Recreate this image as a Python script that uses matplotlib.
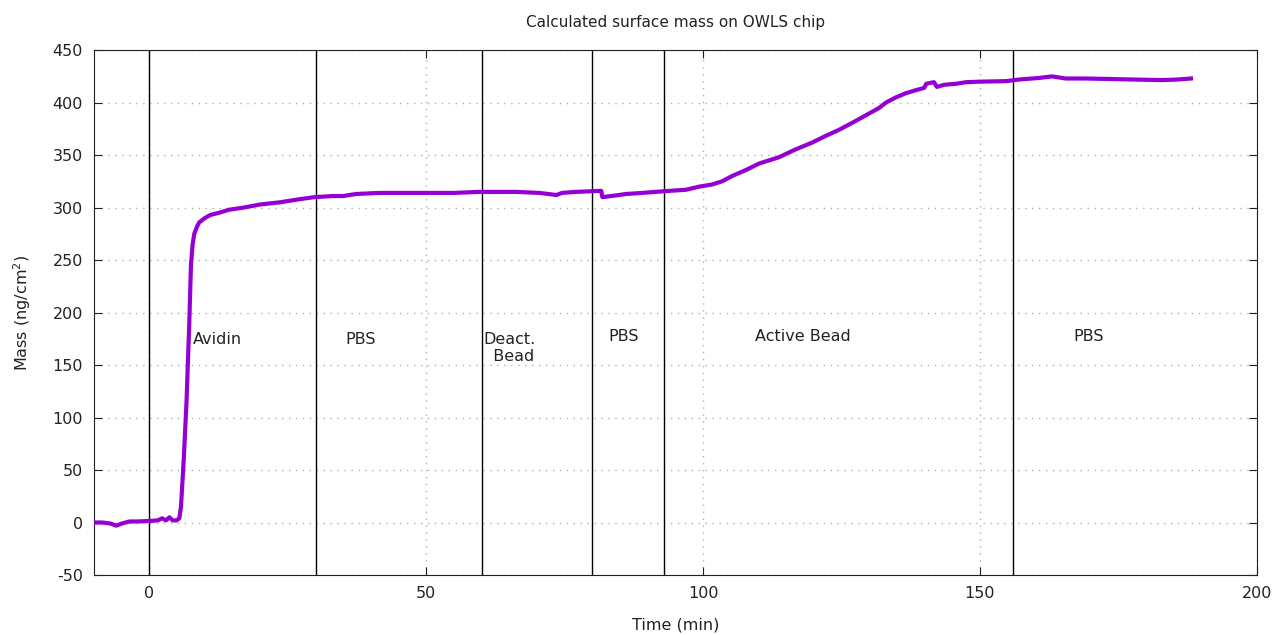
import numpy as np
import matplotlib.pyplot as plt

plt.rcParams['axes.unicode_minus'] = False

# time (min) and calculated surface mass (ng/cm^2)
time = [-10, -8.5, -7, -6, -5, -3.6, -2, 0, 1.5, 2.3, 3, 3.6, 4.2, 4.9, 5.4,
        5.7, 6.2, 6.7, 7.2, 7.5, 7.8, 8.1, 8.6, 9.0, 10, 11, 12.5, 14.4, 17,
        20, 23.5, 27.1, 29.8, 33, 35, 36.1, 37.4, 41.5, 46, 51.1, 55, 59.6, 63,
        66.2, 70.4, 72, 73.5, 74.5, 77, 79.4, 81.6, 81.8, 84.8, 86.1, 89, 92.6,
        96.9, 99.3, 101.6, 103.4, 105.2, 107.8, 110.1, 113.7, 116.5, 119.7,
        122, 124.5, 127, 129.4, 131.8, 133, 134.8, 136.6, 138.5, 139.9, 140.3,
        141.7, 142.2, 143.5, 145.7, 147.5, 150, 154.7, 157, 160.6, 163, 165.5,
        169, 173.8, 178, 182.9, 185.5, 188.1]
mass = [0, 0, -1, -3, -1, 1, 1, 1.5, 2, 4, 2, 5, 2, 2, 4,
        15, 60, 115, 190, 245, 265, 275, 282, 286, 290, 293, 295, 298, 300,
        303, 305, 308, 310, 311, 311, 312, 313, 314, 314, 314, 314, 315, 315,
        315, 314, 313, 312, 314, 315, 315.5, 316, 310, 312, 313, 314, 315.5,
        317, 320, 322, 325, 330, 336, 342, 348, 355, 362,
        368, 374, 381, 388, 395, 400, 405, 409, 412, 414, 418,
        419.5, 415, 417, 418, 419.5, 420, 420.5, 422, 423.5, 425, 423,
        423, 422.5, 422, 421.5, 422, 423]

# step boundaries (min)
steps = [0, 30, 60, 80, 93, 156]
step_labels = ["Avidin", "PBS", "Deact.\n  Bead", "PBS", "Active Bead", "PBS"]
label_x = [7.9, 35.4, 60.3, 82.9, 109.4, 166.8]
label_y = [174, 174, 166, 177, 177, 177]

fig = plt.figure(figsize=(12.76, 6.35), dpi=100)
ax = fig.add_axes([0.0737, 0.0945, 0.9113, 0.8265])

ax.plot(time, mass, color='#9400D3', lw=3, zorder=3)

for s in steps:
    ax.axvline(s, color='black', lw=1, zorder=2)

for x, y, lab in zip(label_x, label_y, step_labels):
    ax.text(x, y, lab, ha='left', va='center', fontsize=11.5, color='#222222')

ax.set_xlim(-10, 200)
ax.set_ylim(-50, 450)
ax.set_xticks(np.arange(0, 201, 50))
ax.set_yticks(np.arange(-50, 451, 50))
ax.grid(True, color='#b0b0b0', linestyle=(0, (1, 4)), lw=1)
ax.tick_params(direction='in', top=True, right=True, labelsize=11.5,
               length=6, colors='#222222', pad=8)
for sp in ax.spines.values():
    sp.set_color('#222222')

ax.set_title("Calculated surface mass on OWLS chip", fontsize=11, pad=17,
             color='#222222')
ax.set_xlabel("Time (min)", fontsize=11.5, color='#222222', labelpad=12)
ax.set_ylabel("Mass (ng/cm$^2$)", fontsize=11.5, color='#222222', labelpad=14)

plt.savefig("out.png", dpi=100)
